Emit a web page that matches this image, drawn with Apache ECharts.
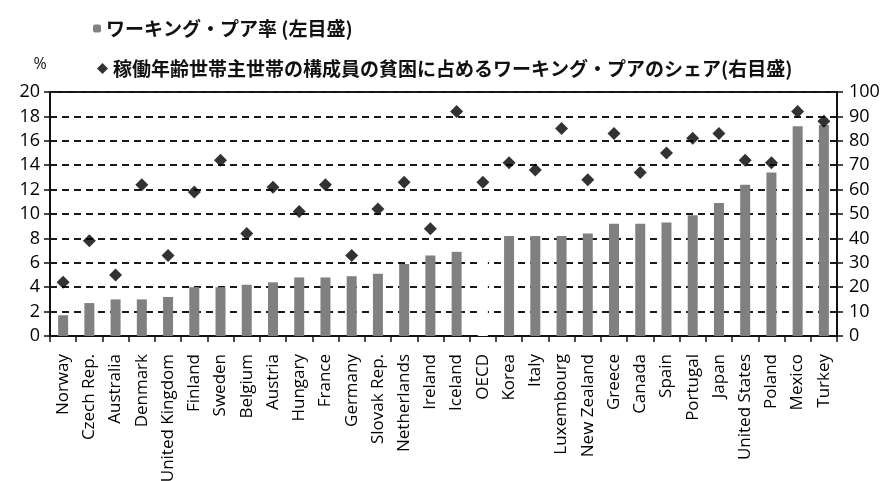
<!DOCTYPE html>
<html>
<head>
<meta charset="utf-8">
<script src="https://cdn.jsdelivr.net/npm/echarts@6/dist/echarts.min.js"></script>
<style>html,body{margin:0;padding:0;background:#fff;}#c{width:888px;height:481px;}</style>
</head>
<body>
<div id="c"></div>
<script>
var categories = ['Norway','Czech Rep.','Australia','Denmark','United Kingdom','Finland','Sweden','Belgium','Austria','Hungary','France','Germany','Slovak Rep.','Netherlands','Ireland','Iceland','OECD','Korea','Italy','Luxembourg','New Zealand','Greece','Canada','Spain','Portugal','Japan','United States','Poland','Mexico','Turkey'];
var workingPoorRate = [1.7,2.7,3.0,3.0,3.2,4.0,4.0,4.2,4.4,4.8,4.8,4.9,5.1,5.9,6.6,6.9,7.0,8.2,8.2,8.2,8.4,9.2,9.2,9.3,9.9,10.9,12.4,13.4,17.2,17.3];
var workingPoorShare = [22,39,25,62,33,59,72,42,61,51,62,33,52,63,44,92,63,71,68,85,64,83,67,75,81,83,72,71,92,88];
var leftTicks = {min:0, max:20, interval:2};
var rightTicks = {min:0, max:100, interval:10};
var seriesNames = ['ワーキング・プア率 (左目盛)','稼働年齢世帯主世帯の構成員の貧困に占めるワーキング・プアのシェア(右目盛)'];

var chart = echarts.init(document.getElementById('c'));
var latin = "'Open Sans', 'DejaVu Sans', sans-serif";
var cjk = "'Noto Sans CJK JP', sans-serif";
var barData = workingPoorRate.map(function(v, i){
  if (categories[i] === 'OECD') return {value: v, itemStyle: {color: '#ffffff'}};
  return v;
});
chart.setOption({
  animation: false,
  backgroundColor: '#ffffff',
  legend: [
    {data:[seriesNames[0]], left: 88, top: 14, itemWidth: 8, itemHeight: 8, itemGap: 5,
     textStyle:{fontFamily: cjk, fontSize: 19, fontWeight: 'bold', color: '#111'}},
    {data:[seriesNames[1]], left: 92, top: 54, itemWidth: 11, itemHeight: 11, itemGap: 5,
     textStyle:{fontFamily: cjk, fontSize: 19, fontWeight: 'bold', color: '#111'}}
  ],
  grid: {left: 50, right: 51, top: 92, bottom: 145, show: true, borderColor: '#111', borderWidth: 2,
         containLabel: false, outerBoundsMode: 'none'},
  xAxis: {
    type: 'category', data: categories, boundaryGap: true,
    axisLine: {lineStyle: {color: '#111', width: 2}},
    axisTick: {show: true, length: 6, lineStyle: {color: '#111', width: 1.5}},
    axisLabel: {rotate: 90, margin: 18, fontFamily: latin, fontSize: 17, color: '#000', interval: 0}
  },
  yAxis: [
    {type: 'value', min: leftTicks.min, max: leftTicks.max, interval: leftTicks.interval,
     name: '%', nameLocation: 'end', nameGap: 20,
     nameTextStyle: {fontFamily: latin, fontSize: 16, color: '#111', padding: [0, 20, 0, 0]},
     axisLine: {show: true, lineStyle: {color: '#111', width: 2}},
     axisTick: {show: true, length: 6, lineStyle: {color: '#111', width: 1.5}},
     axisLabel: {fontFamily: latin, fontSize: 18, color: '#000', margin: 10},
     splitLine: {show: true, lineStyle: {color: '#1a1a1a', width: 2, type: [7, 5]}}},
    {type: 'value', min: rightTicks.min, max: rightTicks.max, interval: rightTicks.interval,
     position: 'right',
     axisLine: {show: true, lineStyle: {color: '#111', width: 2}},
     axisTick: {show: true, length: 6, lineStyle: {color: '#111', width: 1.5}},
     axisLabel: {fontFamily: latin, fontSize: 18, color: '#000', margin: 12},
     splitLine: {show: false}}
  ],
  series: [
    {name: seriesNames[0], type: 'bar', yAxisIndex: 0, data: barData, barWidth: 10,
     itemStyle: {color: '#808080'}},
    {name: seriesNames[1], type: 'scatter', yAxisIndex: 1, data: workingPoorShare,
     symbol: 'diamond', symbolSize: 13, itemStyle: {color: '#000'}}
  ]
});
</script>
</body>
</html>
